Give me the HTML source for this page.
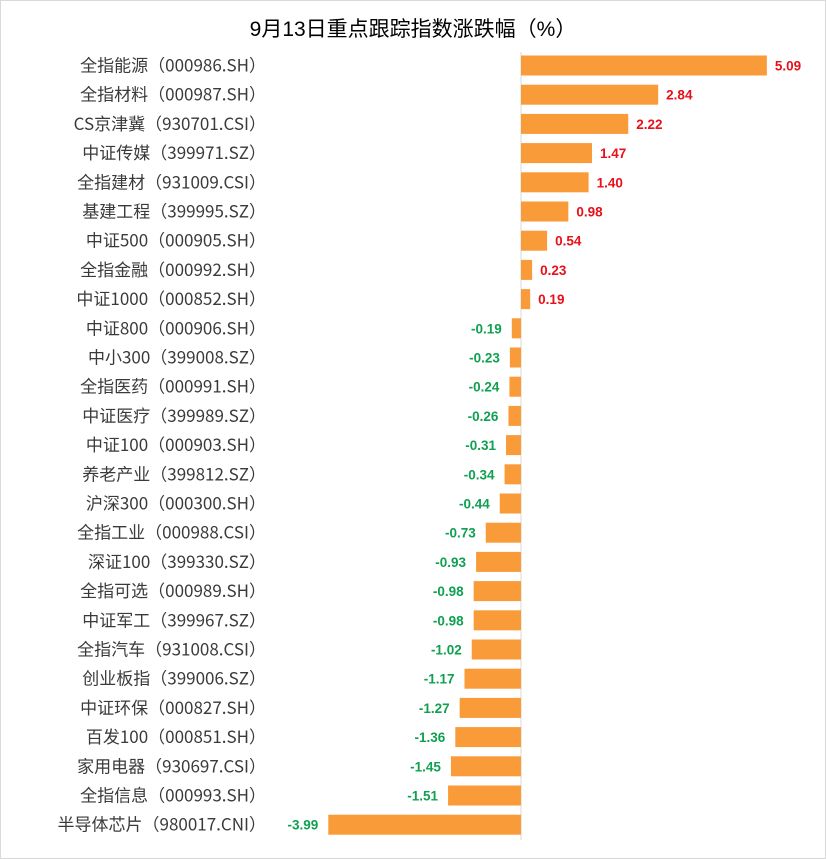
<!DOCTYPE html>
<html><head><meta charset="utf-8"><style>
html,body{margin:0;padding:0;background:#fff}
svg{display:block}
</style></head><body>
<svg width="826" height="859" xmlns="http://www.w3.org/2000/svg">
<rect x="0.5" y="0.5" width="825" height="858" fill="#fff" stroke="#d9d9d9"/>
<text x="413" y="36" text-anchor="middle" font-family="'Liberation Sans','Noto Sans CJK SC',sans-serif" font-size="21" fill="#000">9月13日重点跟踪指数涨跌幅（%）</text>
<line x1="521" y1="52" x2="521" y2="840" stroke="#d9d9d9" stroke-width="1"/>
<g id="g"></g>
</svg>
<script>
const d=[["全指能源（000986.SH）",5.09],["全指材料（000987.SH）",2.84],["CS京津冀（930701.CSI）",2.22],["中证传媒（399971.SZ）",1.47],["全指建材（931009.CSI）",1.40],["基建工程（399995.SZ）",0.98],["中证500（000905.SH）",0.54],["全指金融（000992.SH）",0.23],["中证1000（000852.SH）",0.19],["中证800（000906.SH）",-0.19],["中小300（399008.SZ）",-0.23],["全指医药（000991.SH）",-0.24],["中证医疗（399989.SZ）",-0.26],["中证100（000903.SH）",-0.31],["养老产业（399812.SZ）",-0.34],["沪深300（000300.SH）",-0.44],["全指工业（000988.CSI）",-0.73],["深证100（399330.SZ）",-0.93],["全指可选（000989.SH）",-0.98],["中证军工（399967.SZ）",-0.98],["全指汽车（931008.CSI）",-1.02],["创业板指（399006.SZ）",-1.17],["中证环保（000827.SH）",-1.27],["百发100（000851.SH）",-1.36],["家用电器（930697.CSI）",-1.45],["全指信息（000993.SH）",-1.51],["半导体芯片（980017.CNI）",-3.99]];
const k=48.3,z=521;let s="";
d.forEach((r,i)=>{const c=65.5+i*29.2,v=r[1],w=Math.abs(v)*k;
const x=v>=0?z:z-w;
s+=`<rect x="${x}" y="${c-10}" width="${w}" height="20" fill="#f99b38"/>`;
s+=`<text x="266" y="${c+6}" text-anchor="end" font-family="'Noto Sans CJK SC',sans-serif" font-size="17" fill="#3a3a3a">${r[0]}</text>`;
const t=v.toFixed(2);
if(v>=0)s+=`<text x="${z+w+8}" y="${c+5}" font-family="'Liberation Sans',sans-serif" font-weight="bold" font-size="13.5" fill="#e8101a">${t}</text>`;
else s+=`<text x="${z-w-10}" y="${c+5}" text-anchor="end" font-family="'Liberation Sans',sans-serif" font-weight="bold" font-size="13.5" fill="#10a050">${t}</text>`;});
document.getElementById("g").innerHTML=s;
</script>
</body></html>
